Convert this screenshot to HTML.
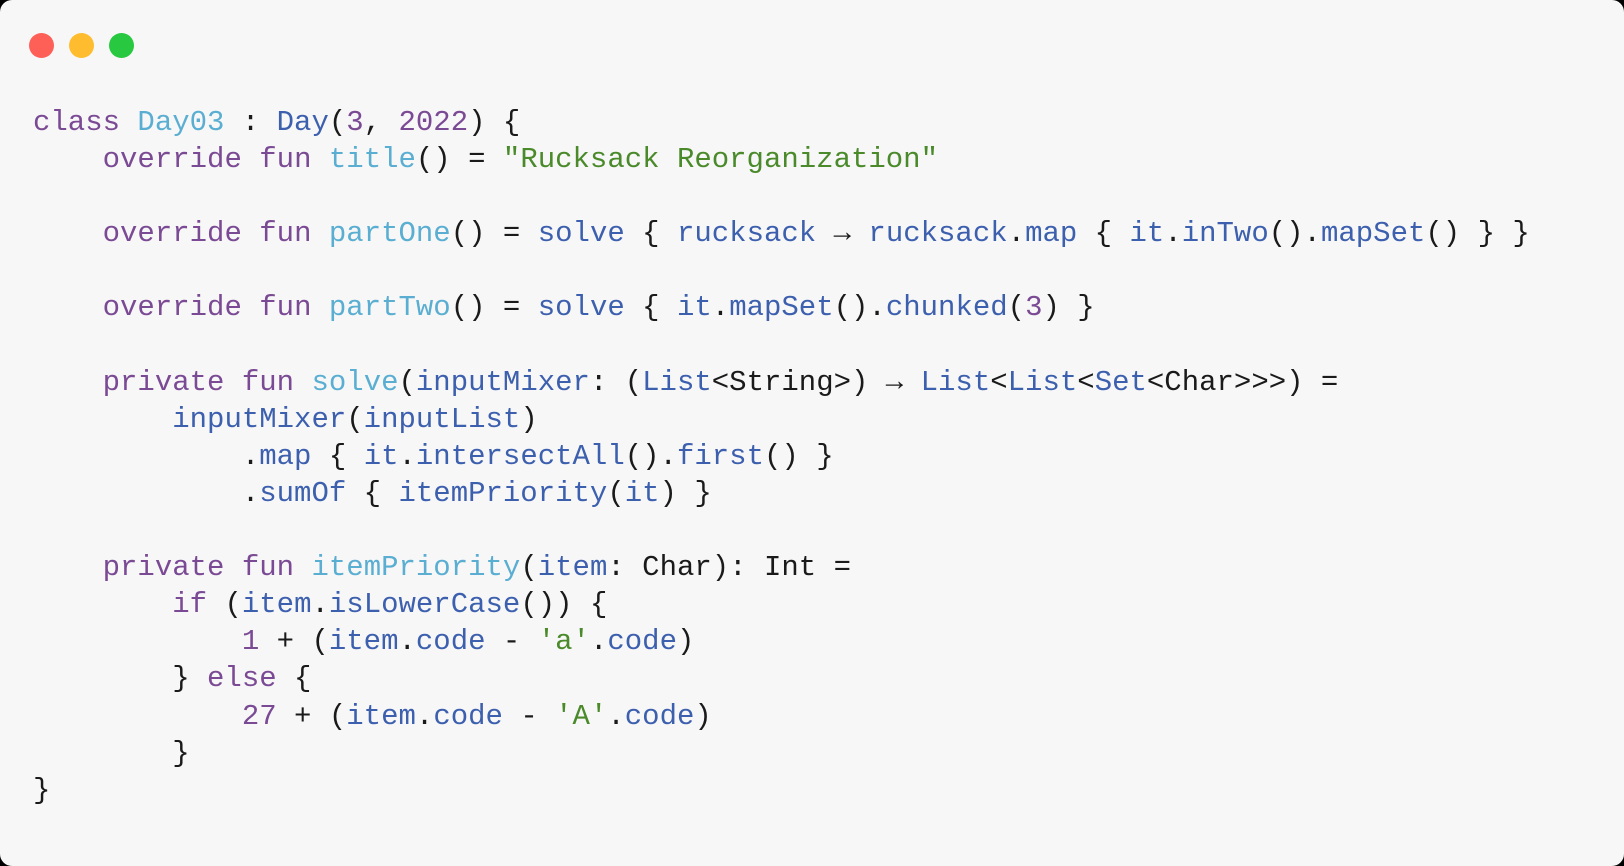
<!DOCTYPE html>
<html><head><meta charset="utf-8"><style>
html,body{margin:0;padding:0;background:#000;width:1624px;height:866px;overflow:hidden}
.win{position:absolute;left:0;top:0;width:1624px;height:866px;background:#f7f7f7;border-radius:12px}
.dot{position:absolute;top:33px;width:25px;height:25px;border-radius:50%}
pre{position:absolute;left:33px;top:104px;margin:0;font-family:"Liberation Mono","DejaVu Sans Mono",monospace;font-size:29px;line-height:37.1px;color:#1a1a1a}
.k{color:#7b4a94}.c{color:#5aaed2}.b{color:#3c5fae}.s{color:#4a8a2a}.n{color:#7b4a94}
</style></head><body><div class="win">
<div class="dot" style="left:29px;background:#fe5f57;"></div>
<div class="dot" style="left:69px;background:#febc2e;"></div>
<div class="dot" style="left:109px;background:#28c840;"></div>
<pre><span class="k">class</span> <span class="c">Day03</span> : <span class="b">Day</span>(<span class="n">3</span>, <span class="n">2022</span>) {
    <span class="k">override</span> <span class="k">fun</span> <span class="c">title</span>() = <span class="s">"Rucksack Reorganization"</span>

    <span class="k">override</span> <span class="k">fun</span> <span class="c">partOne</span>() = <span class="b">solve</span> { <span class="b">rucksack</span> → <span class="b">rucksack</span>.<span class="b">map</span> { <span class="b">it</span>.<span class="b">inTwo</span>().<span class="b">mapSet</span>() } }

    <span class="k">override</span> <span class="k">fun</span> <span class="c">partTwo</span>() = <span class="b">solve</span> { <span class="b">it</span>.<span class="b">mapSet</span>().<span class="b">chunked</span>(<span class="n">3</span>) }

    <span class="k">private</span> <span class="k">fun</span> <span class="c">solve</span>(<span class="b">inputMixer</span>: (<span class="b">List</span>&lt;String&gt;) → <span class="b">List</span>&lt;<span class="b">List</span>&lt;<span class="b">Set</span>&lt;Char&gt;&gt;&gt;) =
        <span class="b">inputMixer</span>(<span class="b">inputList</span>)
            .<span class="b">map</span> { <span class="b">it</span>.<span class="b">intersectAll</span>().<span class="b">first</span>() }
            .<span class="b">sumOf</span> { <span class="b">itemPriority</span>(<span class="b">it</span>) }

    <span class="k">private</span> <span class="k">fun</span> <span class="c">itemPriority</span>(<span class="b">item</span>: Char): Int =
        <span class="k">if</span> (<span class="b">item</span>.<span class="b">isLowerCase</span>()) {
            <span class="n">1</span> + (<span class="b">item</span>.<span class="b">code</span> - <span class="s">'a'</span>.<span class="b">code</span>)
        } <span class="k">else</span> {
            <span class="n">27</span> + (<span class="b">item</span>.<span class="b">code</span> - <span class="s">'A'</span>.<span class="b">code</span>)
        }
}</pre>
</div></body></html>
